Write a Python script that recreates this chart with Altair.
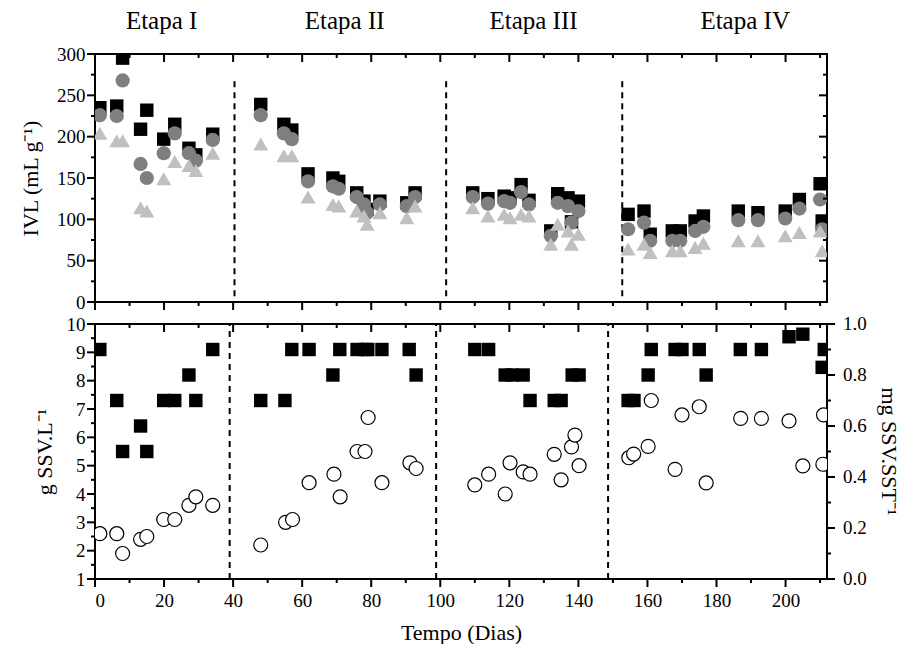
import altair as alt
import pandas as pd

FONT = "Liberation Serif"
W, H_TOP, H_BOT = 732, 248, 255
X_MAX = 212

# ---------------- top panel: IVL ----------------
top_days = [1.4, 6.3, 8, 13.2, 15, 19.9, 23.1, 27.2, 29.2, 34.1,
            48, 54.7, 57, 61.7, 68.9, 70.6, 75.8, 77.9, 78.8, 82.5, 90.3, 92.7,
            109.4, 113.8, 118.5, 120.2, 123.4, 125.7, 132, 134, 137, 138, 140,
            154.4, 159, 160.8, 167.2, 169.5, 173.8, 176.2, 186.3, 192, 199.9, 204, 210, 210.6]
ivl_square = [235, 237, 295, 209, 232, 197, 215, 186, 178, 203,
              239, 215, 208, 155, 150, 146, 132, 122, 112, 122, 120, 132,
              132, 125, 128, 126, 142, 123, 86, 131, 126, 97, 122,
              106, 110, 82, 86, 86, 98, 104, 110, 108, 110, 124, 143, 98]
ivl_circle = [226, 225, 268, 167, 150, 180, 204, 180, 171, 196,
              226, 204, 197, 146, 140, 137, 127, 118, 108, 118, 116, 127,
              127, 119, 122, 120, 133, 118, 80, 120, 116, 96, 110,
              88, 96, 74, 74, 74, 86, 91, 99, 99, 101, 113, 124, 88]
ivl_triangle = [204, 195, 195, 114, 110, 149, 170, 165, 159, 180,
                191, 177, 177, 127, 118, 116, 110, 104, 94, 108, 102, 116,
                114, 104, 106, 102, 106, 104, 70, 94, 86, 70, 82,
                64, 70, 60, 62, 62, 66, 71, 74, 74, 80, 84, 86, 62]

series_names = ["Série 1", "Série 2", "Série 3"]
series_shapes = ["square", "circle", "triangle-up"]
series_colors = ["#000000", "#7f7f7f", "#c0c0c0"]
series_sizes = [180, 225, 256]

stage_names = ["Etapa I", "Etapa II", "Etapa III", "Etapa IV"]
stage_centers = [19.3, 72.3, 127, 188.3]
top_dividers = [40.4, 101.7, 152.7]
bottom_dividers = [39, 98.8, 148.6]

# ---------------- bottom panel ----------------
ssv_days = [1.4, 6.3, 8, 13.2, 15, 19.9, 23.1, 27.2, 29.2, 34.1,
            48, 55.2, 57.2, 62, 69.2, 71, 75.9, 78.2, 79.1, 83.1, 91.2, 93,
            110, 114, 118.8, 120.2, 124, 126, 133, 135, 138, 139, 140.2,
            154.6, 156, 160.2, 161.1, 168, 170, 175, 177, 187, 193, 201, 205, 210.8, 211]
ssv_values = [2.6, 2.6, 1.9, 2.4, 2.5, 3.1, 3.1, 3.6, 3.9, 3.6,
              2.2, 3.0, 3.1, 4.4, 4.7, 3.9, 5.5, 5.5, 6.7, 4.4, 5.1, 4.9,
              4.32, 4.7, 4.0, 5.1, 4.78, 4.7, 5.4, 4.5, 5.66, 6.08, 5.0,
              5.28, 5.41, 5.68, 7.3, 4.87, 6.79, 7.08, 4.39, 6.67, 6.67, 6.58, 4.99, 5.05, 6.79]
ratio_days = [1.4, 6.3, 8, 13.2, 15, 19.9, 23.1, 27.2, 29.2, 34.1,
              48, 55, 57, 62, 68.9, 70.9, 75.9, 78.2, 79, 83.1, 91, 93,
              110, 114, 118.8, 120.8, 124, 126, 133, 135, 138.2, 140.2,
              154.4, 156.1, 160.2, 161.1, 168, 170, 175, 177, 186.9, 193, 201, 205, 210.6, 211.2]
ratio_values = [0.9, 0.7, 0.5, 0.6, 0.5, 0.7, 0.7, 0.8, 0.7, 0.9,
                0.7, 0.7, 0.9, 0.9, 0.8, 0.9, 0.9, 0.9, 0.9, 0.9, 0.9, 0.8,
                0.9, 0.9, 0.8, 0.8, 0.8, 0.7, 0.7, 0.7, 0.8, 0.8,
                0.7, 0.7, 0.8, 0.9, 0.9, 0.9, 0.9, 0.8, 0.9, 0.9, 0.95, 0.96, 0.83, 0.9]

x_major = list(range(0, 211, 20))
x_minor = list(range(10, 211, 20))
ivl_major = list(range(0, 301, 50))
ivl_minor = list(range(25, 300, 50))
ssv_major = list(range(1, 11))
ssv_minor = [1.5 + i for i in range(9)]
ratio_major = [round(0.2 * i, 1) for i in range(6)]
ratio_minor = [round(0.1 + 0.2 * i, 1) for i in range(5)]

MAJOR_LEN, MINOR_LEN = 8, 4
SSV_MIN, SSV_MAX = 1, 10   # left axis of bottom panel; ratio 0..1 maps onto it

# ---------------- frames ----------------
rows = []
for name, vals in zip(series_names, [ivl_square, ivl_circle, ivl_triangle]):
    for d, v in zip(top_days, vals):
        rows.append({"dia": d, "ivl": v, "serie": name})
top_df = pd.DataFrame(rows)
stage_df = pd.DataFrame({"etapa": stage_names, "dia": stage_centers})
top_div_df = pd.DataFrame({"dia": top_dividers, "y0": [7] * 3, "y1": [271] * 3})
bot_div_df = pd.DataFrame({"dia": bottom_dividers, "y0": [1] * 3, "y1": [10] * 3})
ssv_df = pd.DataFrame({"dia": ssv_days, "ssv": ssv_values})
ratio_df = pd.DataFrame({"dia": ratio_days, "razao": ratio_values})
ratio_lab_df = pd.DataFrame({"razao": ratio_major})
right_title_df = pd.DataFrame({"t": ["mg SSV.SST⁻¹"]})

RATIO_TO_LEFT = f"{SSV_MIN} + {SSV_MAX - SSV_MIN} * datum.razao"


def tick_df(major, minor):
    return pd.DataFrame({"pos": list(major) + list(minor),
                         "ln": [MAJOR_LEN] * len(major) + [MINOR_LEN] * len(minor)})


common = dict(grid=False, domain=False, ticks=False,
              labelFont=FONT, labelFontSize=19, labelColor="black",
              titleFont=FONT, titleFontSize=22, titleColor="black",
              titleFontWeight="normal")

xs = alt.Scale(domain=[0, X_MAX], nice=False, zero=False)
ys_top = alt.Scale(domain=[0, 300], nice=False, zero=False)
ys_bot = alt.Scale(domain=[SSV_MIN, SSV_MAX], nice=False, zero=False)

top_yaxis = alt.Axis(orient="left", values=ivl_major, labelPadding=10,
                     title="IVL (mL g⁻¹)", titleX=-65, titleY=H_TOP / 2,
                     titleAngle=270, titleBaseline="middle", titleAlign="center", **common)
bot_xaxis = alt.Axis(orient="bottom", values=x_major, labelPadding=12,
                     title="Tempo (Dias)", titleX=W / 2, titleY=53,
                     titleBaseline="middle", titleAlign="center", **common)
bot_yaxis = alt.Axis(orient="left", values=ssv_major, format="d", labelPadding=10,
                     title="g SSV.L⁻¹", titleX=-51, titleY=H_BOT / 2,
                     titleAngle=270, titleBaseline="middle", titleAlign="center", **common)


def x_ticks(major, minor, p0, p1, xaxis):
    return alt.Chart(tick_df(major, minor)).transform_calculate(
        p0=p0, p1=p1
    ).mark_rule(color="black", strokeWidth=2).encode(
        x=alt.X("pos:Q", scale=xs, axis=xaxis),
        y=alt.Y("p0:Q", scale=None),
        y2="p1:Q",
    )


def y_ticks(major, minor, yscale, yaxis, p0, p1, pos_expr="datum.pos"):
    return alt.Chart(tick_df(major, minor)).transform_calculate(
        p0=p0, p1=p1, py=pos_expr
    ).mark_rule(color="black", strokeWidth=2).encode(
        y=alt.Y("py:Q", scale=yscale, axis=yaxis),
        x=alt.X("p0:Q", scale=None),
        x2="p1:Q",
    )


# ---------------- top chart ----------------
top_pts = alt.Chart(top_df).mark_point(filled=True, opacity=1, clip=True).encode(
    x=alt.X("dia:Q", scale=xs, axis=None),
    y=alt.Y("ivl:Q", scale=ys_top, axis=top_yaxis),
    shape=alt.Shape("serie:N", scale=alt.Scale(domain=series_names, range=series_shapes), legend=None),
    color=alt.Color("serie:N", scale=alt.Scale(domain=series_names, range=series_colors), legend=None),
    size=alt.Size("serie:N", scale=alt.Scale(domain=series_names, range=series_sizes), legend=None),
)

top_rules = alt.Chart(top_div_df).mark_rule(color="black", strokeWidth=2, strokeDash=[6, 5]).encode(
    x=alt.X("dia:Q", scale=xs, axis=None),
    y=alt.Y("y0:Q", scale=ys_top, axis=top_yaxis),
    y2="y1:Q",
)

top_text = alt.Chart(stage_df).mark_text(font=FONT, fontSize=25, color="black",
                                         baseline="middle", align="center").encode(
    x=alt.X("dia:Q", scale=xs, axis=None),
    y=alt.value(-33),
    text="etapa:N",
)

top = alt.layer(
    top_rules, top_pts, top_text,
    x_ticks(x_major, x_minor, f"{H_TOP}", f"{H_TOP} + datum.ln", None),           # bottom, outward
    x_ticks(x_major, x_minor, "0", "datum.ln", None),                              # top, inward
    y_ticks(ivl_major, ivl_minor, ys_top, top_yaxis, "-datum.ln", "0"),            # left, outward
    y_ticks(ivl_major, ivl_minor, ys_top, top_yaxis, f"{W} - datum.ln", f"{W}"),   # right, inward
).properties(width=W, height=H_TOP)

# ---------------- bottom chart ----------------
bot_rules = alt.Chart(bot_div_df).mark_rule(color="black", strokeWidth=2, strokeDash=[6, 5]).encode(
    x=alt.X("dia:Q", scale=xs, axis=bot_xaxis),
    y=alt.Y("y0:Q", scale=ys_bot, axis=bot_yaxis),
    y2="y1:Q",
)

bot_circ = alt.Chart(ssv_df).mark_point(shape="circle", filled=False, fill="white", fillOpacity=1,
                                        stroke="black", strokeWidth=1.2, size=196,
                                        opacity=1, clip=True).encode(
    x=alt.X("dia:Q", scale=xs, axis=bot_xaxis),
    y=alt.Y("ssv:Q", scale=ys_bot, axis=bot_yaxis),
)

# ratio (right axis, 0..1) drawn on the left scale through a linear map
bot_sq = alt.Chart(ratio_df).transform_calculate(yl=RATIO_TO_LEFT).mark_point(
    shape="square", filled=True, color="black", size=180, opacity=1, clip=True).encode(
    x=alt.X("dia:Q", scale=xs, axis=bot_xaxis),
    y=alt.Y("yl:Q", scale=ys_bot, axis=bot_yaxis),
    tooltip=alt.Tooltip("razao:Q"),
)

right_labels = alt.Chart(ratio_lab_df).transform_calculate(
    yl=RATIO_TO_LEFT, lab="format(datum.razao, '.1f')"
).mark_text(font=FONT, fontSize=19, color="black", align="left", baseline="middle").encode(
    x=alt.value(W + 16),
    y=alt.Y("yl:Q", scale=ys_bot, axis=bot_yaxis),
    text="lab:N",
)

right_title = alt.Chart(right_title_df).mark_text(
    font=FONT, fontSize=22, color="black", align="center", baseline="middle", angle=90
).encode(
    x=alt.value(W + 62),
    y=alt.value(H_BOT / 2),
    text="t:N",
)

bottom = alt.layer(
    bot_rules, bot_circ, bot_sq, right_labels, right_title,
    x_ticks(x_major, x_minor, f"{H_BOT}", f"{H_BOT} + datum.ln", bot_xaxis),      # bottom, outward
    x_ticks(x_major, x_minor, "0", "datum.ln", bot_xaxis),                         # top, inward
    y_ticks(ssv_major, ssv_minor, ys_bot, bot_yaxis, "-datum.ln", "0"),            # left, outward
    y_ticks(ratio_major, ratio_minor, ys_bot, bot_yaxis, f"{W}", f"{W} + datum.ln",
            pos_expr=f"{SSV_MIN} + {SSV_MAX - SSV_MIN} * datum.pos"),              # right, outward
).properties(width=W, height=H_BOT)

chart = alt.vconcat(top, bottom, spacing=22, bounds="flush").properties(
    padding={"left": 10, "top": 0, "right": 0, "bottom": 0},
    background="white",
).configure_view(stroke="black", strokeWidth=2)

chart.save("out.html", embed_options={"renderer": "svg", "actions": False})
